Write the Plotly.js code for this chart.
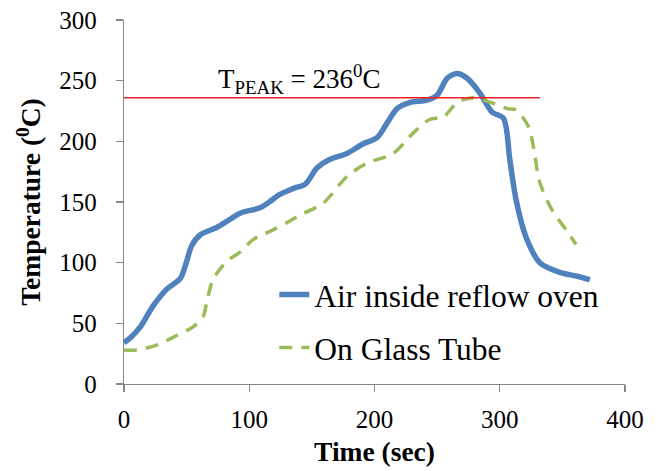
<!DOCTYPE html>
<html>
<head>
<meta charset="utf-8">
<script src="https://cdn.plot.ly/plotly-3.0.1.min.js"></script>
<style>
html,body{margin:0;padding:0;background:#fff;}
#chart{width:669px;height:471px;}
</style>
</head>
<body>
<div id="chart"></div>
<script>
// Series 1: Air inside reflow oven
const airTime = [0,5,13,23,34,45,50,54,61,74,82,93,108,116,124,135,145,154,164,178,191,202,210,218,228,242,250,258,266,274,284,294,303,308,313,321,332,348,361,372];
const airTemp = [34,38,47,64,78,87,101,114,123,129,134,141,145,150,156,161,165,178,185,190,198,203,215,227,232,234,238,252,256,252,240,224,219,185,152,121,100,92,89,86];

// Series 2: On Glass Tube
const glassTime = [0,10,26,42,55,63,66,71,82,93,103,119,130,140,159,178,194,215,231,244,255,266,279,293,306,313,323,327,332,342,353,361];
const glassTemp = [28,28,32,40,47,55,67,86,101,109,119,127,133,139,149,171,182,190,207,218,220,232,236,232,227,226,212,195,166,143,127,115];

// Peak temperature reference line
const peakTime = [0, 332];
const peakTemp = [236, 236];
const peakLabel = "T<sub>PEAK</sub> = 236<sup>0</sup>C";
const peakLabelTime = 140;

const seriesNames = ["Air inside reflow oven", "On Glass Tube"];
const xTicks = [0,100,200,300,400];
const yTicks = [0,50,100,150,200,250,300];

const FONT = 'Liberation Serif, Times New Roman, serif';

const traces = [
  {x: airTime, y: airTemp, type: 'scatter', mode: 'lines', name: seriesNames[0],
   line: {color: '#4F81BD', width: 5.5, shape: 'spline', smoothing: 0.8}, legendgroup: 'a'},
  {x: glassTime, y: glassTemp, type: 'scatter', mode: 'lines', name: seriesNames[1],
   line: {color: '#9BBB59', width: 3.5, dash: '13px,9px', shape: 'spline', smoothing: 0.8}, legendgroup: 'b'},
  {x: peakTime, y: peakTemp, type: 'scatter', mode: 'lines', showlegend: false,
   line: {color: '#ee1c25', width: 1.5}, hoverinfo: 'skip'}
];

const axisCommon = {
  showgrid: false, zeroline: false, showline: true, linecolor: '#868686', linewidth: 1.3,
  ticks: 'outside', ticklen: 7, tickwidth: 1.3, tickcolor: '#868686',
  tickfont: {family: FONT, size: 25, color: '#000'}
};

const layout = {
  width: 669, height: 471,
  margin: {l: 124, r: 44, t: 20, b: 87},
  paper_bgcolor: '#fff', plot_bgcolor: '#fff',
  font: {family: FONT, color: '#000'},
  xaxis: Object.assign({}, axisCommon, {
    range: [0, 400], tickvals: xTicks, ticktext: xTicks.map(String), ticklabelstandoff: 6,
    title: {text: '<b>Time (sec)</b>', font: {family: FONT, size: 27.5, color: '#000'}, standoff: 9}
  }),
  yaxis: Object.assign({}, axisCommon, {
    range: [0, 300], tickvals: yTicks, ticktext: yTicks.map(String), ticklabelstandoff: 14,
    title: {text: '<b>Temperature (<sup>0</sup>C)</b>', font: {family: FONT, size: 27.5, color: '#000'}, standoff: 10}
  }),
  showlegend: true,
  legend: {
    x: 0.30, y: 0.32, xanchor: 'left', yanchor: 'top',
    bgcolor: 'rgba(0,0,0,0)', borderwidth: 0,
    font: {family: FONT, size: 31.5, color: '#000'},
    traceorder: 'grouped', tracegroupgap: 9
  },
  annotations: [{
    x: peakLabelTime, y: peakTemp[0], xref: 'x', yref: 'y',
    text: peakLabel, showarrow: false, xanchor: 'center', yanchor: 'bottom', yshift: -2,
    font: {family: FONT, size: 27, color: '#000'}
  }]
};

Plotly.newPlot('chart', traces, layout, {staticPlot: true, displayModeBar: false});
</script>
</body>
</html>
